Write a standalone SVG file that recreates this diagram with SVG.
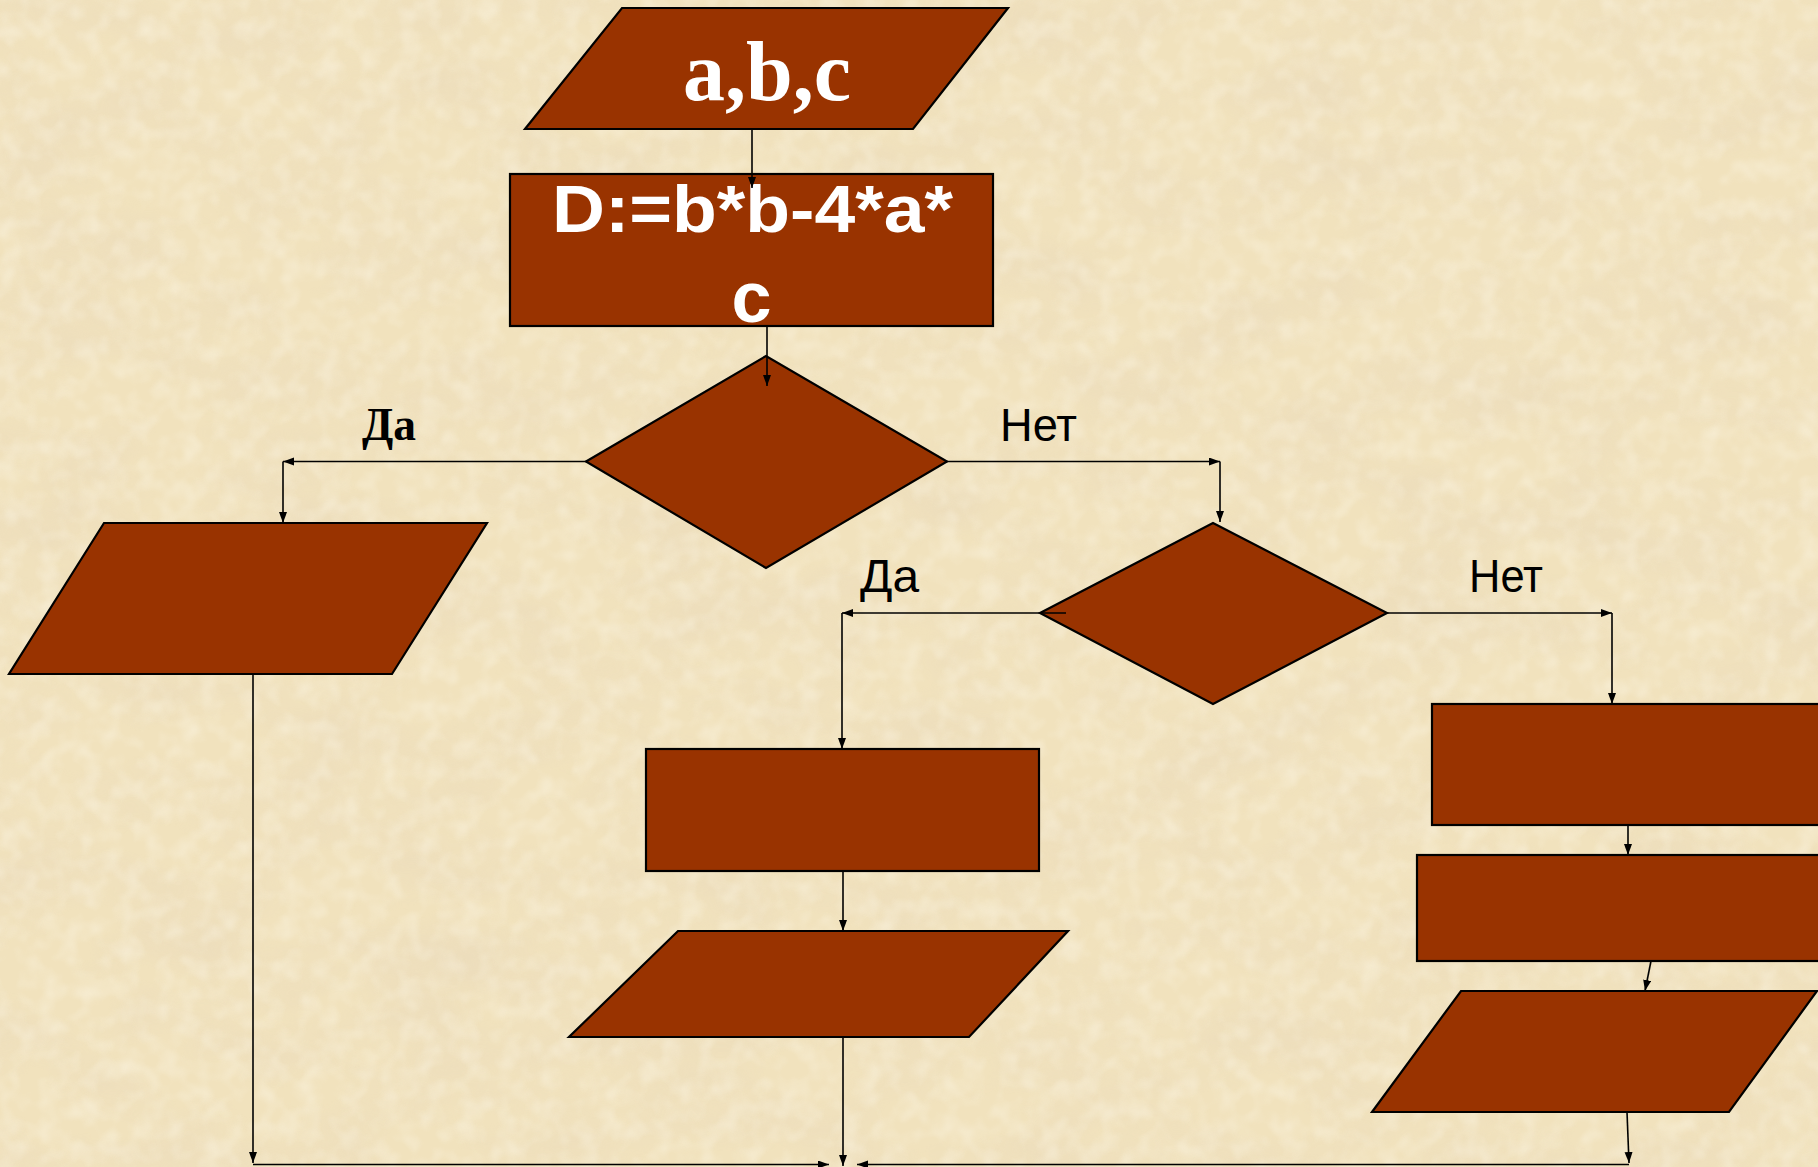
<svg xmlns="http://www.w3.org/2000/svg" width="1818" height="1167" viewBox="0 0 1818 1167">
<defs>
<filter id="paper" x="0" y="0" width="100%" height="100%" filterUnits="userSpaceOnUse">
<feTurbulence type="fractalNoise" baseFrequency="0.008 0.014" numOctaves="4" seed="7" result="n"/>
<feColorMatrix in="n" type="matrix" values="0 0 0 0 0.82  0 0 0 0 0.70  0 0 0 0 0.50  1.6 0 0 0 -0.62" result="c"/>
</filter>
<filter id="speck" x="0" y="0" width="100%" height="100%" filterUnits="userSpaceOnUse">
<feTurbulence type="fractalNoise" baseFrequency="0.05" numOctaves="2" seed="2" result="n"/>
<feColorMatrix in="n" type="matrix" values="0 0 0 0 0.98  0 0 0 0 0.94  0 0 0 0 0.82  1.5 0 0 0 -0.6"/>
</filter>
<marker id="ah" markerUnits="userSpaceOnUse" markerWidth="12" markerHeight="10" refX="11" refY="4" orient="auto">
<path d="M0,0 L11,4 L0,8 Z" fill="#000"/>
</marker>
<style>
.shape{fill:#993300;stroke:#000;stroke-width:2.2;stroke-linejoin:miter}
.conn{fill:none;stroke:#000;stroke-width:1.6;marker-end:url(#ah)}
.big{fill:#fff;font-weight:bold;text-anchor:middle}
.lbl{fill:#000;font-family:"Liberation Sans",Arial,sans-serif;font-size:46px}
</style>
</defs>
<rect x="0" y="0" width="1818" height="1167" fill="#F1E2BD"/>
<rect x="0" y="0" width="1818" height="1167" filter="url(#paper)" opacity="0.7"/>
<rect x="0" y="0" width="1818" height="1167" filter="url(#speck)" opacity="0.55"/>

<g id="input-abc">
<polygon class="shape" points="622,8 1008,8 913,129 525,129"/>
<text class="big" x="767" y="100" font-family="'Liberation Serif','Times New Roman',serif" font-size="84">a,b,c</text>
</g>
<g id="calc-d">
<rect class="shape" x="510" y="174" width="483" height="152"/>
<text class="big" x="752.5" y="232" font-family="'Liberation Sans',Arial,sans-serif" font-size="66" textLength="401" lengthAdjust="spacingAndGlyphs">D:=b*b-4*a*</text>
<text class="big" x="751.5" y="322" font-family="'Liberation Sans',Arial,sans-serif" font-size="72">c</text>
</g>
<g id="decision-1">
<polygon class="shape" points="586,461.5 766,356 947,461.5 766,568"/>
</g>
<g id="output-left">
<polygon class="shape" points="104,523 487,523 392,674 9,674"/>
</g>
<g id="decision-2">
<polygon class="shape" points="1040,613 1213,523 1387,613 1213,704"/>
</g>
<g id="process-mid">
<rect class="shape" x="646" y="749" width="393" height="122"/>
</g>
<g id="output-mid">
<polygon class="shape" points="678,931 1068,931 969,1037 569,1037"/>
</g>
<g id="process-right-1">
<rect class="shape" x="1432" y="704" width="392" height="121"/>
</g>
<g id="process-right-2">
<rect class="shape" x="1417" y="855" width="407" height="106"/>
</g>
<g id="output-right">
<polygon class="shape" points="1461,991 1817,991 1729,1112 1372,1112"/>
</g>

<g id="labels">
<text x="362" y="440" font-family="'Liberation Serif','Times New Roman',serif" font-weight="bold" font-size="46" textLength="54" lengthAdjust="spacingAndGlyphs" fill="#000">Да</text>
<text class="lbl" x="1000" y="441" textLength="77" lengthAdjust="spacingAndGlyphs">Нет</text>
<text class="lbl" x="860" y="592" textLength="59" lengthAdjust="spacingAndGlyphs">Да</text>
<text class="lbl" x="1469" y="592" textLength="74" lengthAdjust="spacingAndGlyphs">Нет</text>
</g>

<g id="connectors">
<line class="conn" x1="752" y1="129" x2="752" y2="188"/>
<line class="conn" x1="767" y1="326" x2="767" y2="386"/>
<line class="conn" x1="586" y1="461.5" x2="283" y2="461.5"/>
<line class="conn" x1="283" y1="461.5" x2="283" y2="523"/>
<line class="conn" x1="947" y1="461.5" x2="1220" y2="461.5"/>
<line class="conn" x1="1220" y1="461.5" x2="1220" y2="522"/>
<line class="conn" x1="1066" y1="613" x2="842" y2="613"/>
<line class="conn" x1="842" y1="613" x2="842" y2="749"/>
<line class="conn" x1="1387" y1="613" x2="1612" y2="613"/>
<line class="conn" x1="1612" y1="613" x2="1612" y2="704"/>
<line class="conn" x1="253" y1="674" x2="253" y2="1163"/>
<line class="conn" x1="253" y1="1164.5" x2="829" y2="1164.5"/>
<line class="conn" x1="843" y1="871" x2="843" y2="931"/>
<line class="conn" x1="843" y1="1037" x2="843" y2="1166"/>
<line class="conn" x1="1628" y1="825" x2="1628" y2="855"/>
<line class="conn" x1="1651" y1="961" x2="1645" y2="991"/>
<line class="conn" x1="1627" y1="1112" x2="1629" y2="1163"/>
<line class="conn" x1="1629" y1="1164.5" x2="857" y2="1164.5"/>
</g>
</svg>
